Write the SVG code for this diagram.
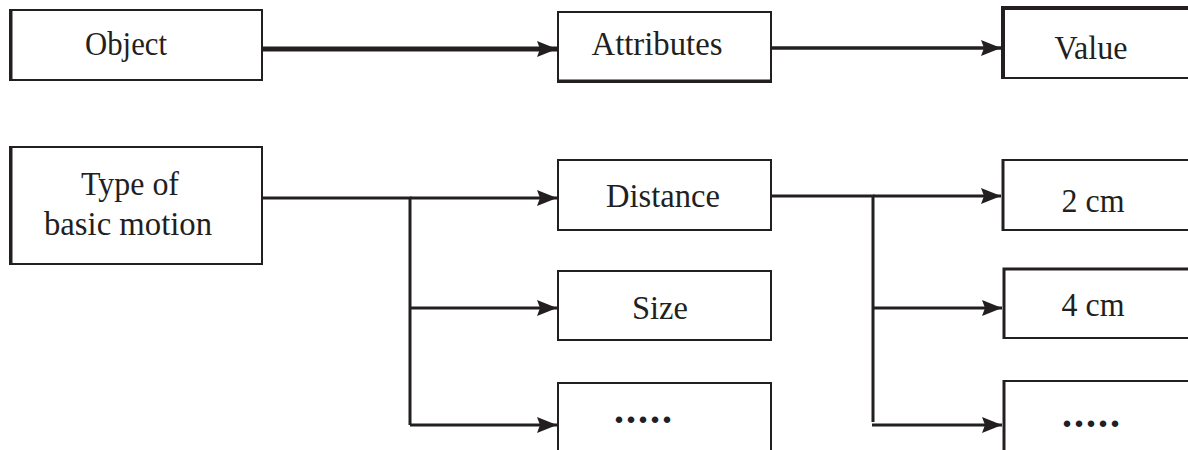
<svg xmlns="http://www.w3.org/2000/svg" width="1188" height="450" viewBox="0 0 1188 450">
  <defs>
    <style>
      .box { fill: #ffffff; stroke: #231f20; stroke-width: 2; }
      .edge { stroke: #231f20; fill: none; }
      .lbl { font-family: "Liberation Serif", "Times New Roman", serif; font-size: 34px; fill: #231f20; text-anchor: middle; }
      .dots { font-family: "Liberation Serif", "Times New Roman", serif; font-size: 40px; font-weight: bold; fill: #231f20; text-anchor: middle; letter-spacing: 2px; }
      .wire { stroke: #231f20; fill: none; }
    </style>
    <marker id="arrow" viewBox="0 0 20 16" refX="20" refY="8" markerWidth="20" markerHeight="16" markerUnits="userSpaceOnUse" orient="auto">
      <path d="M0,0 L20,8 L0,16 L3,8 Z" fill="#231f20"/>
    </marker>
  </defs>

  <!-- top row -->
  <g id="object">
    <rect class="box" x="10" y="10" width="252" height="70"/>
    <line class="edge" x1="11" y1="9" x2="11" y2="81" stroke-width="3"/>
    <text class="lbl" x="126" y="55" textLength="82" lengthAdjust="spacingAndGlyphs">Object</text>
  </g>
  <g id="attributes">
    <rect class="box" x="558" y="12" width="213" height="70"/>
    <line class="edge" x1="557" y1="81" x2="772" y2="81" stroke-width="3"/>
    <text class="lbl" x="657" y="55" textLength="131" lengthAdjust="spacingAndGlyphs">Attributes</text>
  </g>
  <g id="value">
    <rect class="box" x="1003" y="8" width="200" height="70"/>
    <path class="edge" d="M1003,79 V8 H1200" stroke-width="4"/>
    <text class="lbl" x="1091" y="59" textLength="73" lengthAdjust="spacingAndGlyphs">Value</text>
  </g>

  <!-- lower left -->
  <g id="motion">
    <rect class="box" x="10" y="147" width="252" height="117"/>
    <line class="edge" x1="11" y1="146" x2="11" y2="265" stroke-width="3"/>
    <text class="lbl" x="130" y="195" textLength="98" lengthAdjust="spacingAndGlyphs">Type of</text>
    <text class="lbl" x="128" y="235" textLength="168" lengthAdjust="spacingAndGlyphs">basic motion</text>
  </g>

  <!-- attribute column -->
  <g id="distance">
    <rect class="box" x="558" y="160" width="213" height="70"/>
    <text class="lbl" x="663" y="207" textLength="114" lengthAdjust="spacingAndGlyphs">Distance</text>
  </g>
  <g id="size">
    <rect class="box" x="558" y="271" width="213" height="69"/>
    <text class="lbl" x="660" y="319" textLength="56" lengthAdjust="spacingAndGlyphs">Size</text>
  </g>
  <g id="more-attrs">
    <rect class="box" x="558" y="383" width="213" height="80"/>
    <text class="dots" x="644" y="423">.....</text>
  </g>

  <!-- value column -->
  <g id="cm2">
    <rect class="box" x="1003" y="160" width="200" height="70"/>
    <line class="edge" x1="1003" y1="159" x2="1003" y2="231" stroke-width="3"/>
    <text class="lbl" x="1093" y="212" textLength="63" lengthAdjust="spacingAndGlyphs">2 cm</text>
  </g>
  <g id="cm4">
    <rect class="box" x="1004" y="269" width="200" height="69"/>
    <path class="edge" d="M1004,339 V269 H1200" stroke-width="3"/>
    <text class="lbl" x="1093" y="316" textLength="63" lengthAdjust="spacingAndGlyphs">4 cm</text>
  </g>
  <g id="more-values">
    <rect class="box" x="1004" y="381" width="200" height="80"/>
    <line class="edge" x1="1004" y1="380" x2="1004" y2="452" stroke-width="3"/>
    <text class="dots" x="1092" y="427">.....</text>
  </g>

  <!-- connectors -->
  <g id="connectors">
    <line class="wire" style="stroke-width:5" x1="262" y1="49" x2="557" y2="49" marker-end="url(#arrow)"/>
    <line class="wire" style="stroke-width:3.5" x1="771" y1="48" x2="1001" y2="48" marker-end="url(#arrow)"/>

    <path class="wire" style="stroke-width:3" d="M262,198 H410 V425"/>
    <line class="wire" style="stroke-width:3" x1="410" y1="198" x2="557" y2="198" marker-end="url(#arrow)"/>
    <line class="wire" style="stroke-width:3" x1="410" y1="308" x2="557" y2="308" marker-end="url(#arrow)"/>
    <line class="wire" style="stroke-width:3" x1="410" y1="425" x2="557" y2="425" marker-end="url(#arrow)"/>

    <path class="wire" style="stroke-width:3" d="M771,196 H873 V422"/>
    <line class="wire" style="stroke-width:3" x1="873" y1="196" x2="1001" y2="196" marker-end="url(#arrow)"/>
    <line class="wire" style="stroke-width:3" x1="873" y1="308" x2="1002" y2="308" marker-end="url(#arrow)"/>
    <line class="wire" style="stroke-width:3" x1="872" y1="425" x2="1002" y2="425" marker-end="url(#arrow)"/>
  </g>
</svg>
